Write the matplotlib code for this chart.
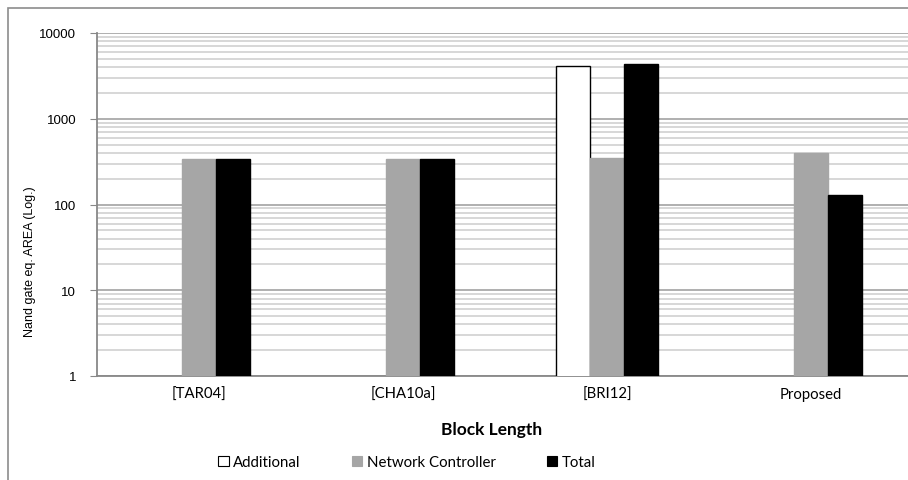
import numpy as np
import matplotlib
matplotlib.use("Agg")
import matplotlib.pyplot as plt
from matplotlib.patches import Patch, Rectangle
from matplotlib.ticker import LogLocator, NullFormatter

# values
categories = ['[TAR04]', '[CHA10a]', '[BRI12]', 'Proposed']
additional = [np.nan, np.nan, 4150, np.nan]
network_ctrl = [340, 335, 345, 400]
total = [340, 340, 4370, 129]

series_names = ['Additional', 'Network Controller', 'Total']
face_colors = ['white', '#a6a6a6', 'black']
edge_colors = ['black', '#a6a6a6', 'black']

W, H = 908, 481
fig = plt.figure(figsize=(W / 100, H / 100), dpi=100)

# outer chart frame (cut off at right/bottom like the screenshot)
fig.patches.append(Rectangle((8 / W, -0.1), 1.2, 1 - 9 / H + 0.1, transform=fig.transFigure,
                             fill=False, edgecolor='#8c8c8c', linewidth=1.2))

ax = fig.add_axes([97 / W, 1 - 377 / H, 816 / W, 343 / H])
ax.set_yscale('log')
ax.set_ylim(1, 10000)
ax.set_xlim(-0.5, 3.5)

x = np.arange(len(categories))
bw = 1 / 6
for i, vals in enumerate([additional, network_ctrl, total]):
    ax.bar(x + (i - 1) * bw, vals, width=bw, color=face_colors[i],
           edgecolor=edge_colors[i], linewidth=1, zorder=3)

# gridlines
ax.yaxis.set_major_locator(LogLocator(base=10, numticks=10))
ax.yaxis.set_minor_locator(LogLocator(base=10, subs=np.arange(2, 10), numticks=20))
ax.yaxis.set_minor_formatter(NullFormatter())
ax.grid(which='major', axis='y', color='#a9a9a9', linewidth=1.3, zorder=0)
ax.grid(which='minor', axis='y', color='#d4d4d4', linewidth=1.3, zorder=0)

for s in ['top', 'right']:
    ax.spines[s].set_visible(False)
ax.spines['left'].set_color('#888888')
ax.spines['bottom'].set_color('#888888')
ax.spines['left'].set_linewidth(1.3)
ax.spines['bottom'].set_linewidth(1.3)

ax.set_yticks([1, 10, 100, 1000, 10000])
ax.set_yticklabels(['1', '10', '100', '1000', '10000'], family='Liberation Sans', fontsize=9.5)
ax.tick_params(axis='y', which='major', length=5, color='#888888', pad=10)
ax.tick_params(axis='y', which='minor', length=0)

ax.set_xticks(x)
ax.set_xticklabels(categories, family='Lato', fontsize=10.7)
ax.tick_params(axis='x', length=0, pad=8)

fig.text(30 / W, 1 - 262 / H, 'Nand gate eq. AREA (Log.)', rotation=90,
         ha='center', va='center', fontsize=9,
         family=['Liberation Sans Narrow', 'Liberation Sans'])
fig.text(492 / W, 1 - 430 / H, 'Block Length', ha='center', va='center',
         fontsize=12.5, fontweight='bold', family='Lato')

handles = [Patch(facecolor=face_colors[i], edgecolor='black' if i == 0 else edge_colors[i],
                 linewidth=0.8) for i in range(3)]
fig.legend(handles, series_names, loc='center', bbox_to_anchor=(407 / W, 1 - 463 / H),
           ncol=3, frameon=False, prop={'family': 'Lato', 'size': 10.8},
           handlelength=0.7, handleheight=0.7, handletextpad=0.3, columnspacing=3.4)

fig.savefig('out.png', dpi=100)
